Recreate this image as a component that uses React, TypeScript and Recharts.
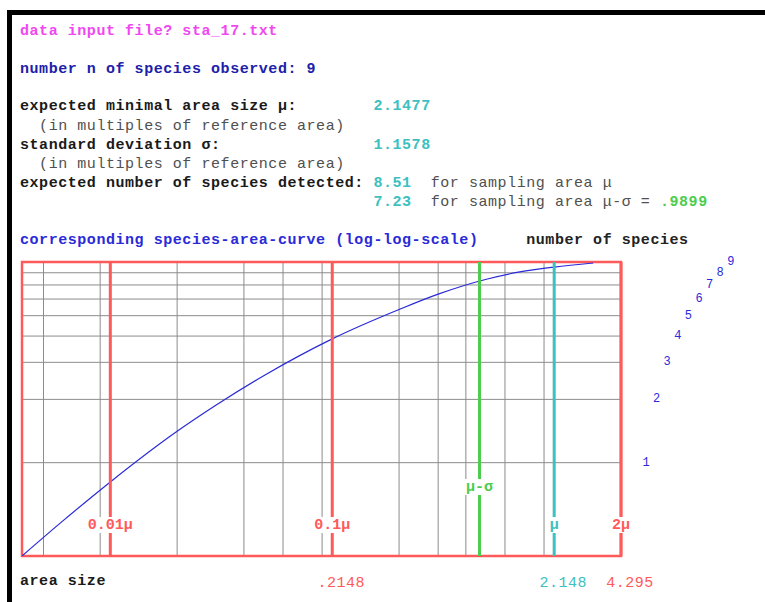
import { LineChart, Line, XAxis, YAxis, CartesianGrid, ReferenceLine, ReferenceArea } from "recharts"

// sampling area in multiples of mu, and expected species detected
const areaMult = [0.004, 0.006, 0.01, 0.02, 0.03, 0.05, 0.1, 0.2, 0.3, 0.5, 0.7, 1, 1.5]
const speciesDetected = [0.36, 0.52, 0.81, 1.41, 1.88, 2.62, 3.88, 5.35, 6.33, 7.47, 8.07, 8.51, 8.9]

const gridAreaTicks = [
  0.005, 0.006, 0.007, 0.008, 0.009,
  0.02, 0.03, 0.04, 0.05, 0.06, 0.07, 0.08, 0.09,
  0.2, 0.3, 0.4, 0.5, 0.6, 0.7, 0.8, 0.9,
]
const speciesTicks = [1, 2, 3, 4, 5, 6, 7, 8, 9]

const markerValues = [0.01, 0.1, 0.4609, 1, 2]
const markerLabels = ["0.01μ", "0.1μ", "μ-σ", "μ", "2μ"]

const areaTickValues = [0.1, 1, 2]
const areaTickLabels = [".2148", "2.148", "4.295"]

const RED = "#ff5a5a"
const CYAN = "#3cc0c0"
const GREEN = "#4ccc4c"
const BLUE = "#2a2ad8"
const MONO = '"Liberation Mono", "DejaVu Sans Mono", monospace'

const markerStyle: Record<string, { color: string; rise: number }> = {
  "0.01μ": { color: RED, rise: 31 },
  "0.1μ": { color: RED, rise: 31 },
  "μ-σ": { color: GREEN, rise: 69 },
  "μ": { color: CYAN, rise: 31 },
  "2μ": { color: RED, rise: 31 },
}
const areaTickColor = [RED, CYAN, RED]

const chartData = areaMult.map((a, i) => ({ area: a, species: speciesDetected[i] }))

function MarkerLabel(props: any) {
  const { viewBox, text } = props
  if (!viewBox) return null
  const st = markerStyle[text]
  const cy = viewBox.y + viewBox.height - st.rise
  const w = text.length * 10 + 4
  return (
    <g>
      <rect x={viewBox.x - w / 2} y={cy - 8} width={w} height={16} fill="#fff" />
      <text
        x={viewBox.x}
        y={cy}
        textAnchor="middle"
        dominantBaseline="central"
        fill={st.color}
        fontSize={15}
        fontWeight="bold"
        fontFamily={MONO}
      >
        {text}
      </text>
    </g>
  )
}

const SpeciesTick = (props: any) => {
  const { x, y, payload } = props
  const v = payload.value as number
  return (
    <text
      x={x + 23 + (v - 1) * 10.6}
      y={y}
      textAnchor="middle"
      dominantBaseline="central"
      fill={BLUE}
      fontSize={12}
      fontFamily={MONO}
    >
      {v}
    </text>
  )
}

const AreaTick = (props: any) => {
  const { x, y, payload } = props
  const i = areaTickValues.indexOf(payload.value)
  if (i < 0) return null
  return (
    <text
      x={x + 9}
      y={y - 5}
      textAnchor="middle"
      dominantBaseline="central"
      fill={areaTickColor[i]}
      fontSize={15}
      fontFamily={MONO}
      letterSpacing={0.5}
    >
      {areaTickLabels[i]}
    </text>
  )
}

const TextLine = ({ y, x = 20, children }: { y: number; x?: number; children: any }) => (
  <div
    style={{
      position: "absolute",
      left: x,
      top: y - 9,
      height: 18,
      lineHeight: "18px",
      whiteSpace: "pre",
      fontSize: 15,
      letterSpacing: 0.55,
      fontWeight: "bold",
      color: "#1a1a1a",
    }}
  >
    {children}
  </div>
)

const gray = { color: "#505050", fontWeight: "normal" as const }

export default function App() {
  return (
    <div
      style={{
        position: "absolute",
        left: 0,
        top: 0,
        width: 765,
        height: 602,
        background: "#fff",
        overflow: "hidden",
        fontFamily: MONO,
      }}
    >
      <div style={{ position: "absolute", left: 7, top: 10, width: 758, height: 5, background: "#000" }} />
      <div style={{ position: "absolute", left: 7, top: 10, width: 5, height: 592, background: "#000" }} />

      <TextLine y={32}>
        <span style={{ color: "#f048f0" }}>data input file? sta_17.txt</span>
      </TextLine>
      <TextLine y={70}>
        <span style={{ color: "#2020a8" }}>number n of species observed: 9</span>
      </TextLine>
      <TextLine y={107}>
        {"expected minimal area size μ:        "}
        <span style={{ color: CYAN }}>2.1477</span>
      </TextLine>
      <TextLine y={127}>
        <span style={gray}>{"  (in multiples of reference area)"}</span>
      </TextLine>
      <TextLine y={146}>
        {"standard deviation σ:                "}
        <span style={{ color: CYAN }}>1.1578</span>
      </TextLine>
      <TextLine y={165}>
        <span style={gray}>{"  (in multiples of reference area)"}</span>
      </TextLine>
      <TextLine y={184}>
        {"expected number of species detected: "}
        <span style={{ color: CYAN }}>8.51</span>
        <span style={gray}>{"  for sampling area μ"}</span>
      </TextLine>
      <TextLine y={203}>
        {"                                     "}
        <span style={{ color: CYAN }}>7.23</span>
        <span style={gray}>{"  for sampling area μ-σ = "}</span>
        <span style={{ color: GREEN }}>.9899</span>
      </TextLine>
      <TextLine y={241}>
        <span style={{ color: BLUE }}>corresponding species-area-curve (log-log-scale)</span>
        <span style={{ color: "#222" }}>{"     number of species"}</span>
      </TextLine>
      <TextLine y={582}>area size</TextLine>

      <div style={{ position: "absolute", left: 0, top: 0 }}>
        <LineChart
          width={765}
          height={602}
          data={chartData}
          margin={{ top: 262, right: 44, bottom: 16, left: 22 }}
        >
          <XAxis xAxisId="grid" dataKey="area" type="number" scale="log" domain={[0.004, 2]} allowDataOverflow ticks={gridAreaTicks} hide />
          <XAxis
            xAxisId="lbl"
            dataKey="area"
            type="number"
            scale="log"
            domain={[0.004, 2]}
            allowDataOverflow
            ticks={areaTickValues}
            interval={0}
            height={30}
            axisLine={false}
            tickLine={false}
            tickSize={0}
            tick={<AreaTick />}
          />
          <YAxis
            yAxisId="sp"
            orientation="right"
            type="number"
            scale="log"
            domain={[0.36, 9]}
            allowDataOverflow
            ticks={speciesTicks}
            interval={0}
            width={100}
            axisLine={false}
            tickLine={false}
            tickSize={0}
            tick={<SpeciesTick />}
          />
          <CartesianGrid xAxisId="grid" yAxisId="sp" stroke="#8c8c8c" strokeWidth={1} />
          <ReferenceArea
            xAxisId="lbl"
            yAxisId="sp"
            x1={0.004}
            x2={2}
            y1={0.36}
            y2={9}
            fill="none"
            stroke={RED}
            strokeWidth={2.5}
            ifOverflow="visible"
          />
          <Line
            xAxisId="lbl"
            yAxisId="sp"
            type="monotone"
            dataKey="species"
            stroke={BLUE}
            strokeWidth={1.2}
            dot={false}
            isAnimationActive={false}
          />
          {markerValues.map((v, i) => (
            <ReferenceLine
              key={markerLabels[i]}
              xAxisId="lbl"
              yAxisId="sp"
              x={v}
              stroke={markerStyle[markerLabels[i]].color}
              strokeWidth={3}
              ifOverflow="visible"
              label={<MarkerLabel text={markerLabels[i]} />}
            />
          ))}
        </LineChart>
      </div>
    </div>
  )
}
